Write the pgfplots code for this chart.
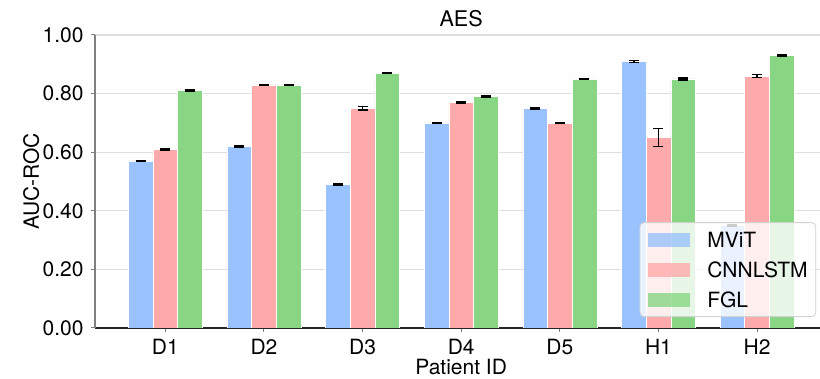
\documentclass[border=0pt]{standalone}
\usepackage{fontspec}
\setmainfont{TeX Gyre Heros}
\usepackage{pgfplots}
\pgfplotsset{compat=1.18}
\definecolor{cmvit}{RGB}{153,194,255}
\definecolor{ccnn}{RGB}{255,170,170}
\definecolor{cfgl}{RGB}{136,214,132}
\begin{document}
\fontsize{10.5pt}{12.5pt}\selectfont
\begin{tikzpicture}
\useasboundingbox (0,0) rectangle (410pt,189.5pt);
\begin{axis}[
  at={(47.5pt,25.5pt)}, anchor=south west,
  scale only axis, width=366.2pt, height=146.5pt,
  xmin=-0.7125, xmax=6.7125, ymin=0, ymax=1,
  ybar, bar width=0.25,
  xtick={0,1,2,3,4,5,6}, xticklabels={D1,D2,D3,D4,D5,H1,H2},
  ytick={0,0.2,0.4,0.6,0.8,1},
  yticklabel style={/pgf/number format/.cd, fixed, fixed zerofill, precision=2, assume math mode=true},
  ticklabel style={font=\fontsize{10.5pt}{12.5pt}\selectfont},
  axis lines*=left,
  x axis line style={black!85, line width=0.6pt},
  y axis line style={gray, line width=0.8pt},
  tick align=outside, major tick length=2pt,
  tick style={gray, line width=0.5pt},
  ymajorgrids, grid style={gray!25, line width=0.6pt},
  title={AES},
  title style={font=\fontsize{10.8pt}{12.5pt}\selectfont, at={(axis description cs:0.5,1)}, anchor=base, yshift=-1.85pt, inner sep=0pt},
  xlabel={Patient ID}, ylabel={AUC-ROC},
  label style={font=\fontsize{10.5pt}{12.5pt}\selectfont},
  xlabel style={at={(axis description cs:0.5,0)}, anchor=base, yshift=-23.15pt, inner sep=0pt},
  ylabel style={at={(axis description cs:-0.0765,0.5)}, anchor=base, inner sep=0pt},
  legend style={at={(0.9846,0.0375)}, anchor=south east, draw=gray!35, rounded corners=2pt,
    fill=white, fill opacity=0.8, text opacity=1, font=\fontsize{10.5pt}{12.5pt}\selectfont,
    nodes={inner sep=0pt, text height=7.5pt, text depth=0pt},
    row sep=7.5pt, inner xsep=4pt, inner ysep=4.75pt},
  legend cell align=left,
  legend image code/.code={\draw[#1, draw=none, sharp corners] (0pt,-3.5pt) rectangle (21pt,3.5pt);
    \path (29.5pt,0pt);},
]
\addplot[fill=cmvit, draw=white, line width=0.3pt, bar shift=-0.25,
  error bars/.cd, y dir=both, y explicit,
  error bar style={black, line width=0.7pt},
  error mark options={black, rotate=90, mark size=2.5pt, line width=0.7pt}]
  coordinates {(0,0.57) +- (0,0.002) (1,0.62) +- (0,0.002) (2,0.49) +- (0,0.002)
               (3,0.70) +- (0,0.002) (4,0.75) +- (0,0.002) (5,0.91) +- (0,0.003)
               (6,0.35) +- (0,0.002)};
\addplot[fill=ccnn, draw=white, line width=0.3pt, bar shift=0,
  error bars/.cd, y dir=both, y explicit,
  error bar style={black, line width=0.7pt},
  error mark options={black, rotate=90, mark size=2.5pt, line width=0.7pt}]
  coordinates {(0,0.61) +- (0,0.002) (1,0.83) +- (0,0.002) (2,0.75) +- (0,0.006)
               (3,0.77) +- (0,0.002) (4,0.70) +- (0,0.002) (5,0.65) +- (0,0.03)
               (6,0.86) +- (0,0.006)};
\addplot[fill=cfgl, draw=white, line width=0.3pt, bar shift=0.25,
  error bars/.cd, y dir=both, y explicit,
  error bar style={black, line width=0.7pt},
  error mark options={black, rotate=90, mark size=2.5pt, line width=0.7pt}]
  coordinates {(0,0.81) +- (0,0.002) (1,0.83) +- (0,0.002) (2,0.87) +- (0,0.002)
               (3,0.79) +- (0,0.002) (4,0.85) +- (0,0.002) (5,0.85) +- (0,0.003)
               (6,0.93) +- (0,0.002)};
\legend{MViT, CNNLSTM, FGL}
\end{axis}
\end{tikzpicture}
\end{document}
